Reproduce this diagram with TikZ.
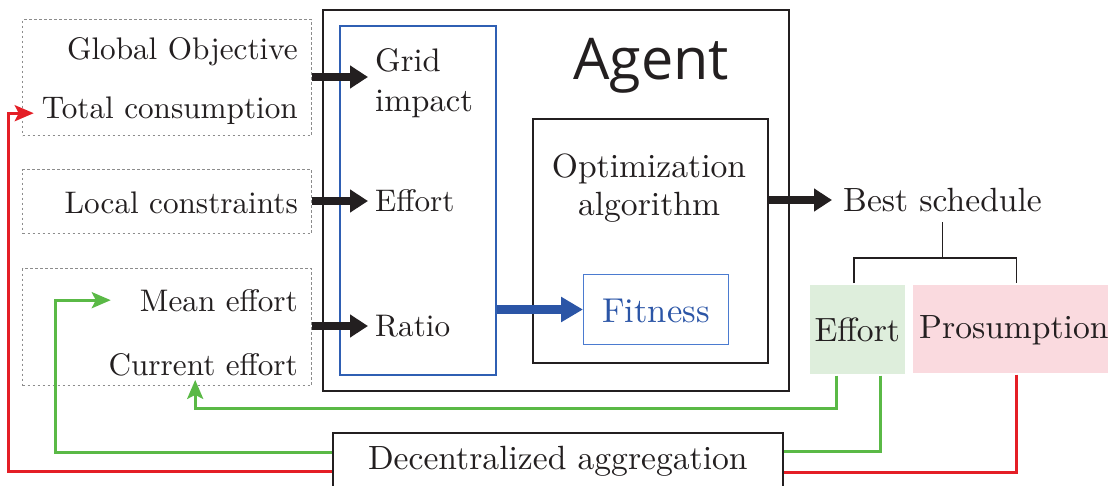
\documentclass[tikz,border=0pt]{standalone}
\usepackage{fontspec}
\setmainfont{lmroman10-regular}[Extension=.otf]
\newfontfamily\agentfont{Open Sans}
\usetikzlibrary{arrows.meta,calc}
\definecolor{txt}{HTML}{231F20}
\definecolor{dgray}{HTML}{8C8C8C}
\definecolor{bblue}{HTML}{2F5FB3}
\definecolor{fblue}{HTML}{4B7BD0}
\definecolor{arrblue}{HTML}{2B55A6}
\definecolor{lgreen}{HTML}{5AB946}
\definecolor{lred}{HTML}{E41E26}
\definecolor{gfill}{HTML}{DEEEDC}
\definecolor{pfill}{HTML}{FADADF}
\tikzset{
  lbl/.style={inner sep=0pt, text=txt},
  bigtxt/.style={font=\fontsize{33.6}{40}\selectfont},
  dbox/.style={draw=dgray, dash pattern=on 2.5pt off 2.5pt, line width=1.2pt, anchor=north west, inner sep=0pt},
  sbox/.style={draw=txt, line width=1.6pt, anchor=north west, inner sep=0pt},
  big/.style={draw=txt, line width=8pt, -{Triangle[length=18pt,width=22pt]}},
  bigblue/.style={draw=arrblue, line width=9pt, -{Triangle[length=22pt,width=24pt]}},
  gline/.style={draw=lgreen, line width=3pt},
  rline/.style={draw=lred, line width=3pt},
  tip/.style={-{Stealth[length=19pt,width=16pt,inset=4pt]}},
}
\begin{document}
\begin{tikzpicture}[x=1pt,y=-1pt, font=\fontsize{31.2}{40}\selectfont]
\useasboundingbox (0,0) rectangle (1108,485);
% input boxes
\node[dbox, minimum width=289pt, minimum height=116pt] (in1) at (22,19) {};
\node[dbox, minimum width=289pt, minimum height=64pt] (in2) at (22,169) {};
\node[dbox, minimum width=289pt, minimum height=117pt] (in3) at (22,268) {};
\node[lbl, anchor=base east] (glob) at (298,59) {Global Objective};
\node[lbl, anchor=base east] (tot) at (298,118) {Total consumption};
\node[lbl, anchor=base east] (loc) at (298,213) {Local constraints};
\node[lbl, anchor=base east] (mean) at (298,311) {Mean effort};
\node[lbl, anchor=base east] (cur) at (298,375) {Current effort};
% agent
\node[sbox, minimum width=466pt, minimum height=381pt] (agent) at (322,9) {};
\node[lbl, anchor=base, font=\agentfont\fontsize{57.5}{60}\selectfont] (agt) at (651,79) {Agent};
\node[draw=bblue, line width=1.5pt, anchor=north west, inner sep=0pt, minimum width=156pt, minimum height=349pt] (blue) at (339,25) {};
\node[lbl, anchor=base west, font=\fontsize{32.6}{40}\selectfont] (grid) at (375,71) {Grid};
\node[lbl, anchor=base west, font=\fontsize{32.6}{40}\selectfont] (imp) at (375,111) {impact};
\node[lbl, anchor=west, inner xsep=7pt] (eff) at (368,201) {Effort};
\node[lbl, anchor=west, inner xsep=7pt] (ratio) at (368,326) {Ratio};
\node[draw=txt, line width=2pt, anchor=north west, inner sep=0pt, minimum width=235pt, minimum height=244pt] (opt) at (532,118) {};
\node[lbl, bigtxt, anchor=base] (opt1) at (649,177) {Optimization};
\node[lbl, bigtxt, anchor=base] (opt2) at (649,215) {algorithm};
\node[draw=fblue, line width=1pt, anchor=north west, inner sep=0pt, minimum width=145pt, minimum height=70pt] (fit) at (583,274) {};
\node[inner sep=0pt, text=arrblue, anchor=base, font=\fontsize{34.5}{40}\selectfont] (fitt) at (fit.center |- 0,322) {Fitness};
% arrows into agent
\draw[big] (in1.east |- 0,77) -- ([xshift=-7pt]grid.west |- 0,77);
\draw[big] (in2.east |- eff.west) -- (eff.west);
\draw[big] (in3.east |- ratio.west) -- (ratio.west);
\draw[bigblue] (blue.east |- fit.west) -- (fit.west);
% best schedule
\node[lbl, bigtxt, anchor=west, inner xsep=11pt, inner ysep=10pt] (best) at (832,200) {Best schedule};
\draw[big] (opt.east |- best.west) -- (best.west);
\node[fill=gfill, draw=white, line width=1.5pt, anchor=north west, inner sep=0pt, minimum width=97pt, minimum height=91pt] (effg) at (808,283) {};
\node[lbl, bigtxt, anchor=base] (efft) at (effg.center |- 0,341) {Effort};
\node[fill=pfill, draw=white, line width=1.5pt, anchor=north west, inner sep=0pt, minimum width=200pt, minimum height=90pt] (pros) at (911,283) {};
\node[lbl, bigtxt, anchor=base west] (prost) at (919,338) {Prosumption};
\draw[draw=txt, line width=1.5pt] (best.south) -- (best.south |- 0,258);
\draw[draw=txt, line width=1.5pt] ([xshift=-3.5pt]effg.north) |- (best.south |- 0,258) -| ([xshift=4.5pt]pros.north);
% decentralized aggregation
\node[draw=txt, line width=1.6pt, anchor=north west, minimum width=450pt, text height=24pt, text depth=30pt, inner ysep=13pt, text=txt, bigtxt] (dec) at (332,432) {Decentralized aggregation};
% feedback lines
\draw[gline, tip] ($(effg.south west)+(28,0)$) |- ([xshift=-8pt]cur.south |- 0,408) -- ([xshift=-8pt,yshift=-4pt]cur.south);
\draw[gline] ($(effg.south west)+(72,0)$) |- ([yshift=-19pt]dec.north east);
\draw[gline, tip] ([yshift=-20pt]dec.north west) -| ([xshift=-84pt]mean.west) -- ([xshift=-29pt]mean.west);
\draw[rline] ($(pros.south west)+(105,0)$) |- ([yshift=-40pt]dec.north east);
\draw[rline, tip] ([yshift=-39pt]dec.north west) -| ([xshift=-33pt,yshift=-3pt]tot.west) -- ([xshift=-8pt,yshift=-3pt]tot.west);
\end{tikzpicture}
\end{document}
